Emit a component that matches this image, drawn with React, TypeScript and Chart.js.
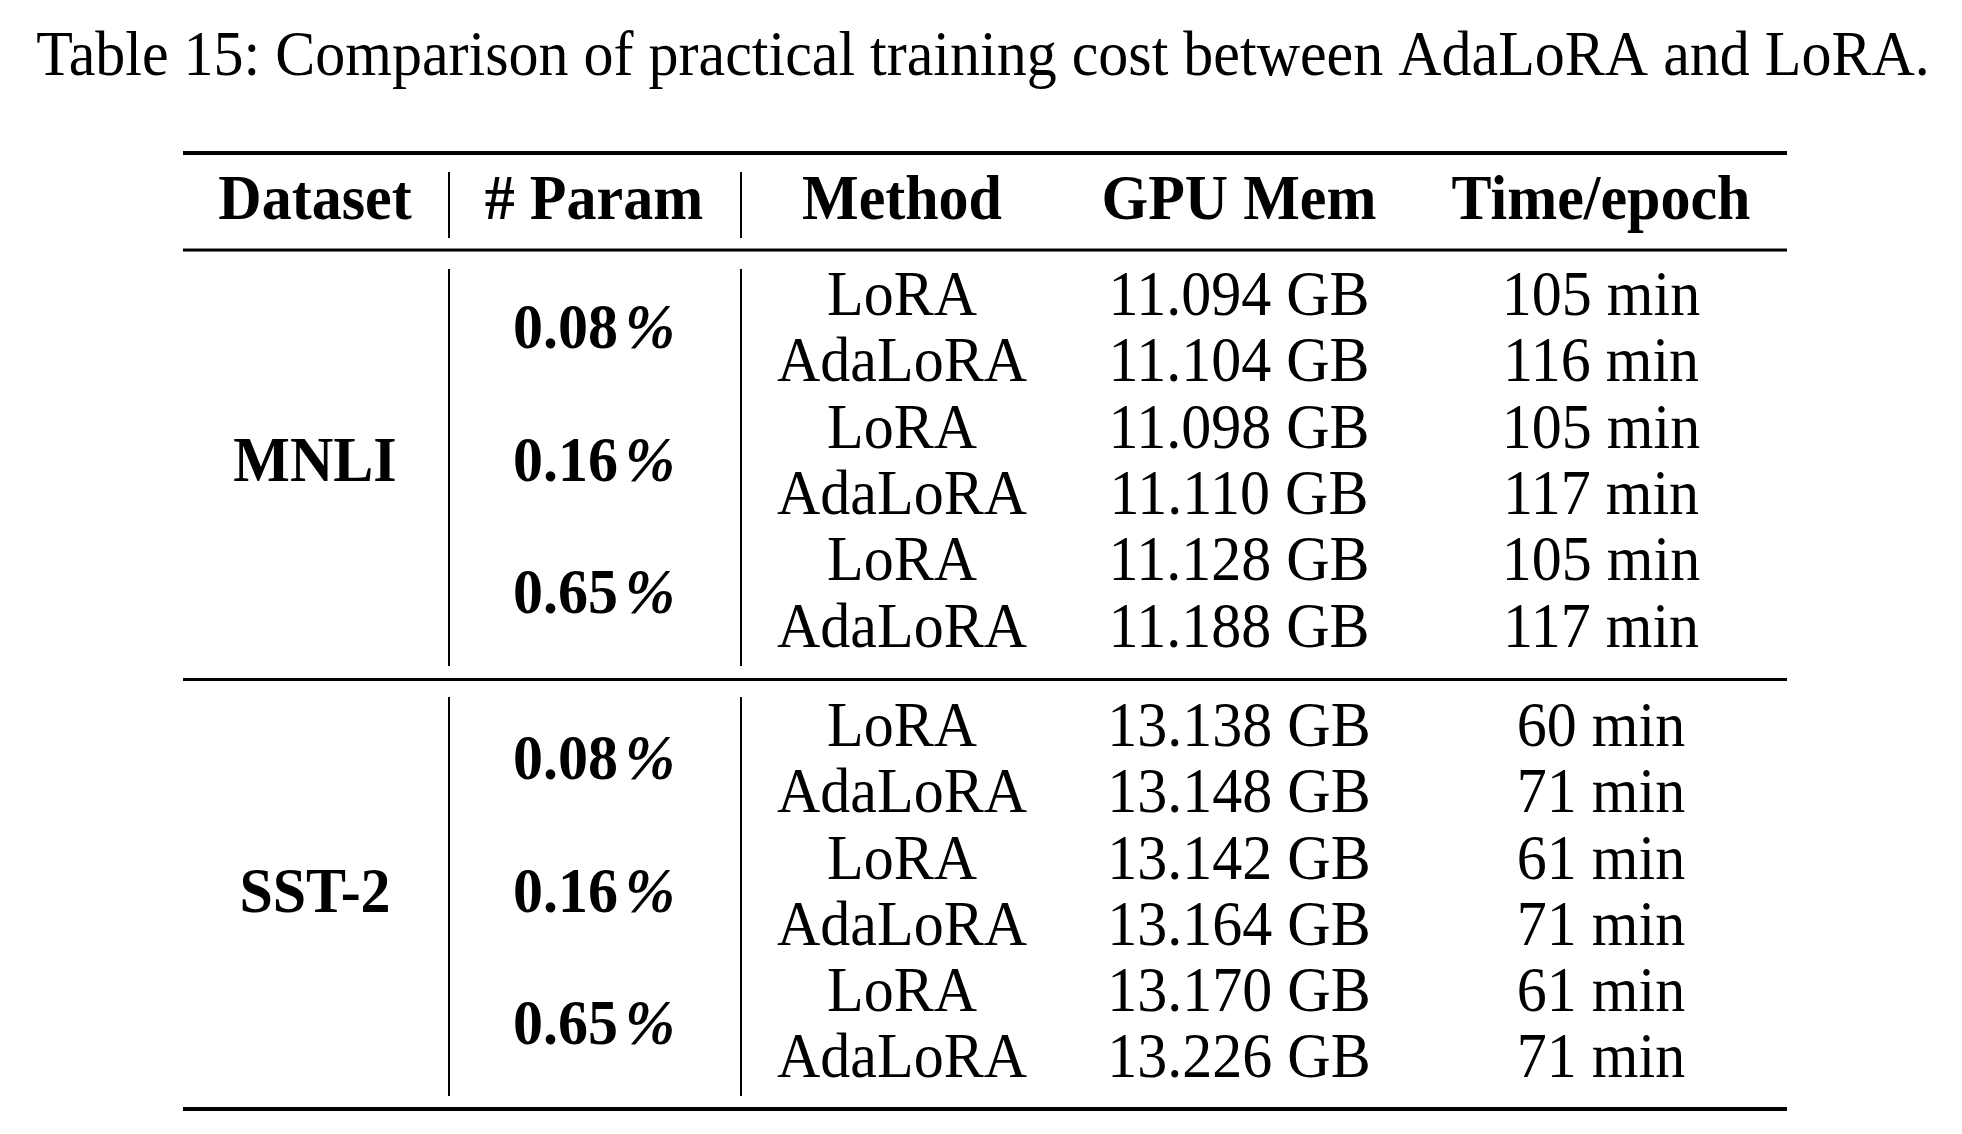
import React, { useEffect, useRef } from "react";
import { Chart, registerables } from "chart.js";

Chart.register(...registerables);

// ---------------- data ----------------
const TITLE = "Table 15: Comparison of practical training cost between AdaLoRA and LoRA.";
const HEADERS = ["Dataset", "# Param", "Method", "GPU Mem", "Time/epoch"];
const DATASET_NAMES = ["MNLI", "SST-2"];
const PARAM_BUDGETS = ["0.08%", "0.16%", "0.65%"];
const METHODS = ["LoRA", "AdaLoRA"];
const MNLI_GPU_MEM = [11.094, 11.104, 11.098, 11.11, 11.128, 11.188];
const MNLI_TIME = [105, 116, 105, 117, 105, 117];
const SST2_GPU_MEM = [13.138, 13.148, 13.142, 13.164, 13.17, 13.226];
const SST2_TIME = [60, 71, 61, 71, 61, 71];

// ---------------- layout (not data) ----------------
const W = 1962;
const H = 1134;
const COL_CENTERS = [315, 594, 902, 1239, 1601];
const TITLE_CENTER = 983;
const TABLE_LEFT = 183;
const TABLE_RIGHT = 1787;
const VBAR_X = [449, 741];
const FIRST_BASELINE = 315;
const ROW_STEP = 66.3;
const BLOCK_GAP = 0.5;
const TITLE_ROW = -3.62;
const HEADER_ROW = -1.448;
const RULES = [
  { y: -2.443, w: 4 },
  { y: -0.98, w: 3 },
  { y: 5.498, w: 3 },
  { y: 11.976, w: 4 },
];
const VBAR_SEGMENTS = [
  [-2.157, -1.161],
  [-0.694, 5.294],
  [5.762, 11.78],
];
const FONT_FAMILY = '"Liberation Serif", "Times New Roman", Times, serif';
const FONT_SIZE = 60;
const V_STRETCH = 1.04;
const PCT_GAP = 7;

type Cell = { x: number; y: number; text: string; bold: boolean };

function buildCells(): Cell[] {
  const cells: Cell[] = [];
  cells.push({ x: TITLE_CENTER, y: TITLE_ROW, text: TITLE, bold: false });
  HEADERS.forEach((h, c) => cells.push({ x: COL_CENTERS[c], y: HEADER_ROW, text: h, bold: true }));
  const blocks = [
    { name: DATASET_NAMES[0], mem: MNLI_GPU_MEM, time: MNLI_TIME },
    { name: DATASET_NAMES[1], mem: SST2_GPU_MEM, time: SST2_TIME },
  ];
  blocks.forEach((b, bi) => {
    const base = bi * (b.mem.length + BLOCK_GAP);
    const n = b.mem.length;
    cells.push({ x: COL_CENTERS[0], y: base + (n - 1) / 2, text: b.name, bold: true });
    PARAM_BUDGETS.forEach((p, pi) => {
      cells.push({ x: COL_CENTERS[1], y: base + pi * METHODS.length + (METHODS.length - 1) / 2, text: p, bold: true });
    });
    b.mem.forEach((m, r) => {
      const y = base + r;
      cells.push({ x: COL_CENTERS[2], y, text: METHODS[r % METHODS.length], bold: false });
      cells.push({ x: COL_CENTERS[3], y, text: m.toFixed(3) + " GB", bold: false });
      cells.push({ x: COL_CENTERS[4], y, text: b.time[r] + " min", bold: false });
    });
  });
  return cells;
}

function drawText(ctx: CanvasRenderingContext2D, c: Cell, x: number, y: number) {
  ctx.save();
  ctx.translate(x, y);
  ctx.scale(1, V_STRETCH);
  ctx.textBaseline = "alphabetic";
  const base = (c.bold ? "bold " : "") + FONT_SIZE + "px " + FONT_FAMILY;
  if (c.bold && c.text.endsWith("%")) {
    const num = c.text.slice(0, -1);
    const pctFont = "italic bold " + FONT_SIZE + "px " + FONT_FAMILY;
    ctx.font = base;
    const w1 = ctx.measureText(num).width;
    ctx.font = pctFont;
    const w2 = ctx.measureText("%").width;
    const start = -(w1 + PCT_GAP + w2) / 2;
    ctx.textAlign = "left";
    ctx.font = base;
    ctx.fillText(num, start, 0);
    ctx.font = pctFont;
    ctx.fillText("%", start + w1 + PCT_GAP, 0);
  } else {
    ctx.font = base;
    ctx.textAlign = "center";
    ctx.fillText(c.text, 0, 0);
  }
  ctx.restore();
}

const tablePlugin = {
  id: "tablePlugin",
  afterDatasetsDraw(chart: any) {
    const ctx = chart.ctx as CanvasRenderingContext2D;
    const xs = chart.scales.x;
    const ys = chart.scales.y;
    ctx.save();
    ctx.fillStyle = "#000";
    // horizontal rules
    const xl = xs.getPixelForValue(TABLE_LEFT);
    const xr = xs.getPixelForValue(TABLE_RIGHT);
    RULES.forEach((r) => {
      const y = ys.getPixelForValue(r.y);
      ctx.fillRect(xl, y - r.w / 2, xr - xl, r.w);
    });
    // vertical bars
    VBAR_X.forEach((vx) => {
      const px = xs.getPixelForValue(vx);
      VBAR_SEGMENTS.forEach(([a, b]) => {
        const y1 = ys.getPixelForValue(a);
        const y2 = ys.getPixelForValue(b);
        ctx.fillRect(px - 1, y1, 2, y2 - y1);
      });
    });
    // cell text
    const meta = chart.getDatasetMeta(0);
    const data = chart.data.datasets[0].data as Cell[];
    meta.data.forEach((el: any, i: number) => drawText(ctx, data[i], el.x, el.y));
    ctx.restore();
  },
};

export default function App() {
  const ref = useRef<HTMLCanvasElement | null>(null);
  useEffect(() => {
    if (!ref.current) return;
    const cells = buildCells();
    const chart = new Chart(ref.current, {
      type: "scatter",
      data: {
        datasets: [
          {
            data: cells as any,
            pointRadius: 0,
            pointHoverRadius: 0,
            showLine: false,
          },
        ],
      },
      options: {
        animation: false,
        responsive: false,
        events: [],
        layout: { padding: 0 },
        plugins: { legend: { display: false }, tooltip: { enabled: false }, title: { display: false } },
        scales: {
          x: { type: "linear", display: false, min: 0, max: W },
          y: {
            type: "linear",
            display: false,
            reverse: true,
            min: -FIRST_BASELINE / ROW_STEP,
            max: (H - FIRST_BASELINE) / ROW_STEP,
          },
        },
      },
      plugins: [tablePlugin],
    });
    return () => chart.destroy();
  }, []);
  return (
    <div style={{ position: "fixed", left: 0, top: 0, width: W, height: H, background: "#fff" }}>
      <canvas ref={ref} width={W} height={H} style={{ display: "block" }} />
    </div>
  );
}
